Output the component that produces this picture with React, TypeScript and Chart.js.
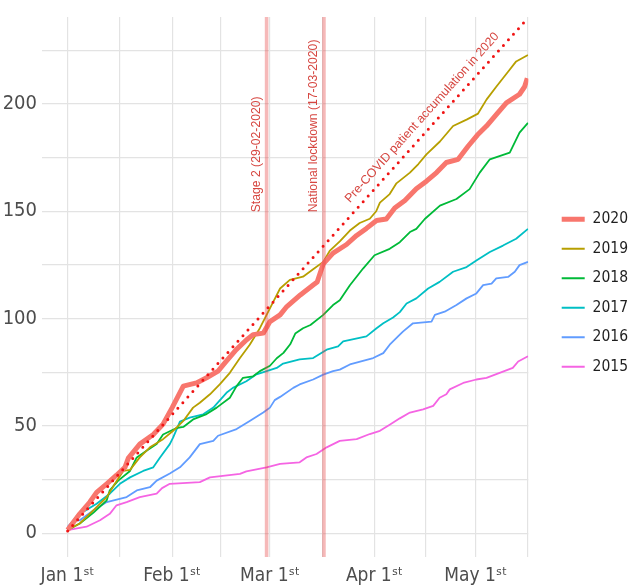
import React, { useEffect, useRef } from 'react';
import { Chart, registerables } from 'chart.js';

Chart.register(...registerables);

// ---- data (x = days since Jan 1st, y = cumulative patients) ----
const seriesNames = ['2020', '2019', '2018', '2017', '2016', '2015'];
const seriesColors = ['#F8766D', '#B79F00', '#00BA38', '#00BFC4', '#619CFF', '#F564E3'];

const days2020 = [0, 3.6, 6.6, 8.6, 11.6, 14.5, 17, 18, 21.4, 25.4, 28.3, 31, 34.3, 38.2, 41.2, 44.6, 47, 50, 53, 55, 58, 60, 63, 65, 69, 72.8, 74, 75.8, 78.7, 82.7, 85.7, 88.6, 91.6, 94.5, 97, 100, 103.4, 106.4, 109.4, 112.3, 115.8, 118.8, 121.5, 124.2, 127.1, 130.1, 134, 135.5, 136.3];
const vals2020 = [1.5, 9, 14.5, 19, 23, 27, 30.7, 35, 41.5, 46, 50.8, 58.5, 68.5, 70, 72.4, 75.5, 80, 85.5, 90, 92.5, 93.2, 98.6, 101.7, 105.6, 111, 115.6, 117, 125.5, 130.5, 134.5, 138.7, 142, 145.7, 146.4, 151.5, 155, 160.5, 164, 168, 172.7, 174.2, 180.4, 185.5, 189.7, 195, 200.5, 204.5, 208, 212];

const days2019 = [0, 3.6, 7.6, 11.6, 14, 16.5, 18.5, 21.4, 24.4, 28.3, 31.3, 34.3, 37.2, 39.2, 42.2, 45.1, 48.1, 51.1, 54, 57, 59, 61, 63, 65.9, 69.8, 72.8, 75.8, 77.7, 80.7, 83.7, 86.6, 89.6, 91.5, 92.6, 95.5, 97.5, 101.5, 104, 106.4, 110.4, 114.3, 118.3, 121.7, 124.2, 127.1, 130.6, 133, 136.5];
const vals2019 = [1.5, 4.5, 10.6, 16.8, 23, 29, 29.5, 35.3, 40, 43.8, 47.7, 52.3, 58.5, 60.8, 64.7, 69.3, 74.7, 81.6, 87.8, 95.5, 101.7, 107.9, 114, 118, 119.5, 123, 126.4, 131.5, 136, 141, 144.5, 146.5, 150, 154, 158, 163, 168, 172, 176.5, 182.5, 189.7, 192.7, 195.5, 202, 208, 215, 219.8, 222.8];

const days2018 = [0, 3.6, 7.6, 11.6, 12.5, 15, 18.5, 20.5, 23.4, 26.4, 28.3, 32.3, 34.3, 37.2, 41.2, 44.2, 48.1, 50.1, 52, 55, 57, 60, 62, 64, 66, 67.5, 69.8, 72, 75.8, 78.7, 80.7, 83.7, 87.6, 91, 95.5, 98.5, 101.5, 103.4, 105.9, 110.4, 115.3, 119.2, 122.2, 125.2, 131.1, 134, 136.5];
const vals2018 = [1.5, 4.5, 9.5, 15.3, 20, 24.5, 29, 35.3, 38.4, 41.5, 46, 49, 49.5, 53, 55.5, 58.5, 63.1, 68.5, 72.4, 73.1, 75.5, 78, 81.5, 84, 88, 93, 95.5, 97, 101.7, 106.3, 108.5, 115.5, 123.3, 129.5, 132.5, 135.6, 140.3, 141.8, 146.4, 152.6, 155.7, 160.3, 168, 174.2, 177.3, 186.6, 191.2];

const days2017 = [0, 2.7, 3.6, 8.6, 12.5, 15.5, 18.5, 22.4, 25.4, 27.4, 30.3, 31.3, 33.3, 36.2, 40.2, 43.2, 47.1, 49, 53, 56, 59, 62, 63.9, 68.8, 72.8, 76.8, 80.2, 81.7, 88.6, 91.6, 93.6, 96.5, 98.5, 100.5, 103.4, 106.9, 110.3, 114.3, 118.3, 121.2, 125.2, 129.1, 133, 136.5];
const vals2017 = [2, 8, 9, 13.7, 18.4, 23, 26, 29, 30.7, 35.3, 41.5, 44.6, 52, 53.8, 55.4, 58.5, 65.4, 67.7, 70.8, 74, 75.5, 77, 79, 81, 81.6, 85.5, 87, 89.4, 91.7, 95.5, 97.8, 100.5, 103, 107, 109.4, 114, 117.1, 121.8, 124, 127, 131, 134, 137.2, 141.8];

const days2016 = [0, 1.7, 3.6, 7.6, 11.6, 17.5, 20.5, 24.4, 26.4, 30.3, 33.3, 36.2, 39.2, 43.2, 44.6, 50.1, 54, 58, 60, 61.4, 63, 66.9, 68.8, 72.8, 75.8, 78.7, 80.7, 83.7, 90.6, 93.6, 95.5, 98.5, 99.5, 102.4, 107.9, 108.9, 111.8, 115.3, 118.3, 121.2, 123.2, 125.7, 127.1, 130.6, 132.6, 134, 136.5];
const vals2016 = [3, 6, 6, 10.6, 14.5, 16.8, 19.9, 21.4, 24.5, 27.8, 30.7, 35.3, 41.5, 43, 45.4, 48.5, 52.3, 56.2, 58.5, 62, 63.5, 67.7, 69.3, 71.6, 73.9, 75.5, 76.2, 78.6, 81.6, 83.9, 87.8, 92.5, 94, 97.8, 98.6, 101.7, 103.2, 106.3, 109.4, 111.7, 115.6, 116.3, 118.7, 119.4, 121.8, 124.9, 126.4];

const days2015 = [0, 5.6, 9.6, 12.5, 14.5, 17.5, 21.4, 26.4, 28, 30.3, 39.2, 42.2, 51.1, 53, 59, 63, 68.8, 70.8, 73.8, 76.8, 80.7, 85.7, 89.6, 92.6, 95.5, 98.5, 101.5, 105.4, 108.4, 110.3, 112.3, 113.3, 117.3, 121.2, 124.2, 128.1, 132, 133.6, 136.5];
const vals2015 = [1.4, 3, 6, 9, 13, 14.5, 16.8, 18.4, 21, 23, 23.8, 26, 27.6, 28.8, 30.7, 32.3, 33, 35.3, 36.9, 40, 43, 43.8, 46.2, 47.7, 50.5, 53.5, 56.2, 57.7, 59.3, 63.1, 64.7, 67, 70, 71.6, 72.4, 74.7, 77, 80, 82.4];

const seriesDays = [days2020, days2019, days2018, days2017, days2016, days2015];
const seriesValues = [vals2020, vals2019, vals2018, vals2017, vals2016, vals2015];

// pre-COVID accumulation trend (dotted)
const trendDays = [0, 136.5];
const trendValues = [1, 240];
const trendLabel = 'Pre-COVID patient accumulation in 2020';
const trendLabelDay = 83.7;
const trendLabelValue = 153.7;

// event lines
const eventDays = [59, 76];
const eventLabels = ['Stage 2 (29-02-2020)', 'National lockdown (17-03-2020)'];
const eventLabelValue = 149.5;

// axes
const xMin = -7.6;
const xMax = 136.6;
const yMin = -11.1;
const yMax = 240.5;
const xMajorTicks = [0, 31, 60, 91, 121];
const xTickLabels = ['Jan 1ˢᵗ', 'Feb 1ˢᵗ', 'Mar 1ˢᵗ', 'Apr 1ˢᵗ', 'May 1ˢᵗ'];
const xMinorTicks = [15.5, 45.5, 75.5, 106, 136.5];
const yMajorTicks = [0, 50, 100, 150, 200];
const yMinorTicks = [25, 75, 125, 175, 225];

const NARROW = '"Liberation Sans Narrow", "DejaVu Sans Condensed", "Liberation Sans", Arial, sans-serif';
const REGULAR = '"Liberation Sans", Arial, sans-serif';
const GRID = '#E3E3E3';
const EVENT_LINE = 'rgba(230, 60, 60, 0.36)';
const EVENT_TEXT = 'rgb(214, 70, 64)';

const annotationPlugin = {
  id: 'eventText',
  afterDatasetsDraw(chart: any) {
    const { ctx, scales } = chart;
    const x = scales.x;
    const y = scales.y;
    ctx.save();
    ctx.fillStyle = EVENT_TEXT;
    ctx.font = `12.2px ${REGULAR}`;
    ctx.textAlign = 'left';
    ctx.textBaseline = 'alphabetic';
    eventDays.forEach((d, i) => {
      const px = x.getPixelForValue(d) - 7;
      const py = y.getPixelForValue(eventLabelValue);
      ctx.save();
      ctx.translate(px, py);
      ctx.rotate(-Math.PI / 2);
      ctx.fillText(eventLabels[i], 0, 0);
      ctx.restore();
    });
    const x0 = x.getPixelForValue(trendDays[0]);
    const y0 = y.getPixelForValue(trendValues[0]);
    const x1 = x.getPixelForValue(trendDays[1]);
    const y1 = y.getPixelForValue(trendValues[1]);
    const angle = Math.atan2(y1 - y0, x1 - x0);
    ctx.save();
    ctx.translate(x.getPixelForValue(trendLabelDay), y.getPixelForValue(trendLabelValue));
    ctx.rotate(angle);
    ctx.font = `12.4px ${REGULAR}`;
    ctx.fillText(trendLabel, 0, 0);
    ctx.restore();
    ctx.restore();
  },
};

export default function App() {
  const canvasRef = useRef<HTMLCanvasElement | null>(null);

  useEffect(() => {
    const canvas = canvasRef.current;
    if (!canvas) return;

    const seriesSets = seriesNames.map((name, i) => ({
      label: name,
      data: seriesDays[i].map((d, k) => ({ x: d, y: seriesValues[i][k] })),
      borderColor: seriesColors[i],
      backgroundColor: seriesColors[i],
      borderWidth: i === 0 ? 5 : 1.8,
      pointRadius: 0,
      tension: 0,
      borderJoinStyle: 'round' as const,
      order: i === 0 ? 2 : 3 + i,
    }));

    const eventSets = eventDays.map((d, i) => ({
      label: eventLabels[i],
      data: [{ x: d, y: yMin }, { x: d, y: yMax }],
      borderColor: EVENT_LINE,
      borderWidth: 3.6,
      pointRadius: 0,
      order: 1,
    }));

    const trendSet = {
      label: trendLabel,
      data: trendDays.map((d, k) => ({ x: d, y: trendValues[k] })),
      borderColor: 'rgb(240, 20, 20)',
      borderWidth: 3,
      borderDash: [0, 7.5],
      borderCapStyle: 'round' as const,
      pointRadius: 0,
      order: 0,
    };

    const chart = new Chart(canvas, {
      type: 'line',
      data: { datasets: [...seriesSets, ...eventSets, trendSet] as any },
      options: {
        responsive: false,
        animation: false,
        devicePixelRatio: 1,
        layout: { padding: { top: 0, left: 0, bottom: 0, right: 2 } },
        plugins: {
          tooltip: { enabled: false },
          title: { display: false },
          legend: {
            display: true,
            position: 'right',
            align: 'center',
            maxWidth: 80.3,
            labels: {
              filter: (item: any) => seriesNames.includes(item.text),
              usePointStyle: true,
              pointStyle: 'line',
              pointStyleWidth: 23,
              padding: 14,
              textAlign: 'right',
              color: '#1F1F1F',
              font: { family: NARROW, size: 15.5 },
            },
          },
        },
        scales: {
          x: {
            type: 'linear',
            position: 'bottom',
            min: xMin,
            max: xMax,
            afterBuildTicks: (axis: any) => {
              axis.ticks = [...xMajorTicks, ...xMinorTicks].sort((a, b) => a - b).map((v) => ({ value: v }));
            },
            afterFit: (s: any) => {
              s.height = 29;
            },
            grid: { color: GRID, lineWidth: 1.2, drawTicks: false },
            border: { display: false },
            ticks: {
              autoSkip: false,
              maxRotation: 0,
              minRotation: 0,
              padding: 8,
              color: '#4D4D4D',
              font: { family: NARROW, size: 19 },
              callback: (value: any) => {
                const idx = xMajorTicks.indexOf(Number(value));
                return idx >= 0 ? xTickLabels[idx] : '';
              },
            },
          },
          y: {
            type: 'linear',
            position: 'left',
            min: yMin,
            max: yMax,
            afterBuildTicks: (axis: any) => {
              axis.ticks = [...yMajorTicks, ...yMinorTicks].sort((a, b) => a - b).map((v) => ({ value: v }));
            },
            afterFit: (s: any) => {
              s.width = 42;
            },
            grid: { color: GRID, lineWidth: 1.2, drawTicks: false },
            border: { display: false },
            ticks: {
              autoSkip: false,
              padding: 5,
              color: '#4D4D4D',
              font: { family: NARROW, size: 20 },
              callback: (value: any) => (yMajorTicks.includes(Number(value)) ? String(value) : ''),
            },
          },
          topSpacer: {
            type: 'linear',
            position: 'top',
            display: true,
            grid: { display: false, drawTicks: false },
            border: { display: false },
            ticks: { display: false },
            afterFit: (s: any) => {
              s.height = 13.5;
            },
          },
          rightSpacer: {
            type: 'linear',
            position: 'right',
            display: true,
            grid: { display: false, drawTicks: false },
            border: { display: false },
            ticks: { display: false },
            afterFit: (s: any) => {
              s.width = 19.4;
            },
          },
        },
      } as any,
      plugins: [annotationPlugin],
    });

    return () => {
      chart.destroy();
    };
  }, []);

  return (
    <div style={{ position: 'fixed', left: 0, top: 0, width: 630, height: 586, background: '#ffffff' }}>
      <canvas ref={canvasRef} width={630} height={586} />
    </div>
  );
}
